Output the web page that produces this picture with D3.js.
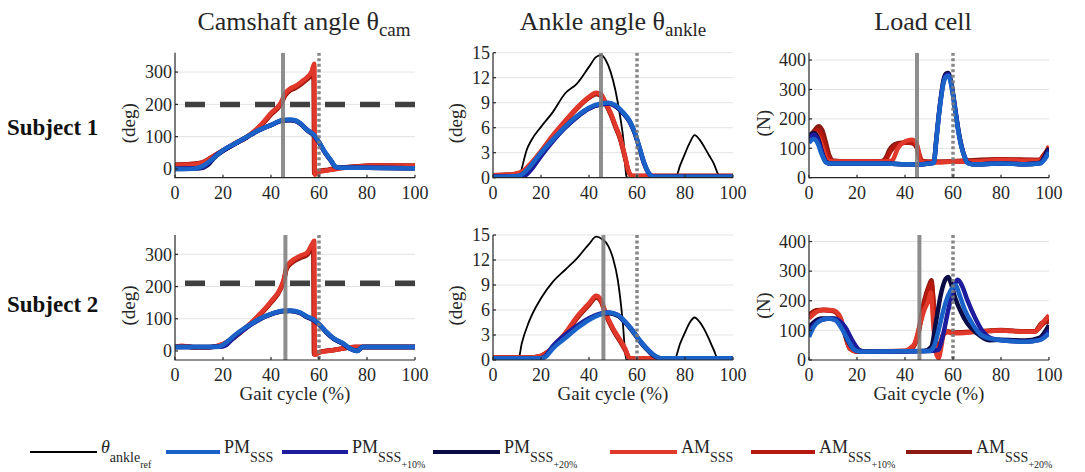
<!DOCTYPE html>
<html lang="en">
<head>
<meta charset="UTF-8">
<title>Camshaft, ankle angle and load cell</title>
<script src="https://d3js.org/d3.v7.min.js"></script>
<style>
    body { margin: 0; background: #fff; }
    text { font-family: "Liberation Serif", "Times New Roman", serif; fill: #262626; }
    .grid { stroke: #e3e3e3; stroke-width: 1; }
    .axis { stroke: #262626; stroke-width: 1.2; fill: none; }
</style>
</head>
<body>
<script>
// ---- data: [gait cycle %, value] ----
const xTicks = [0, 20, 40, 60, 80, 100];
const camTicks = [0, 100, 200, 300];
const ankTicks = [0, 3, 6, 9, 12, 15];
const loadTicks = [0, 100, 200, 300, 400];
const camThreshold = [200, 210];       // dashed line, subject 1 / subject 2
const stanceMark = [45, 46];           // solid grey line
const toeOffMark = [60, 60];           // dotted grey line

// Subject 1 - camshaft angle (deg)
const cam1PM = [[0,0],[8,1],[10,5],[12,11],[15,27],[20,58],[25,79],[30,100],[35,121],[40,136],[45,152],[48,153],[50,151],[52,143],[55,121],[58,105],[60,84],[62,58],[65,27],[67,6],[69,4],[80,4],[100,2]];
const cam1PM10 = [[0,1],[9,2],[11,4],[13,12],[15,26],[17,42],[20,57],[25,78],[30,99],[35,120],[40,136],[45,151],[48,152],[50,150],[52,142],[55,122],[58,104],[60,83],[62,57],[65,26],[67,6],[69,4],[80,4],[100,2]];
const cam1PM20 = [[0,0],[10,2],[12,5],[14,14],[16,32],[20,56],[25,78],[30,99],[35,120],[40,136],[45,150],[48,151],[50,149],[52,141],[55,120],[58,103],[60,82],[62,56],[65,25],[67,6],[69,4],[80,4],[100,2]];
const cam1AM = [[0,11],[5,13],[9,15],[12,22],[15,36],[20,58],[25,80],[30,100],[35,131],[40,173],[44,204],[46,235],[48,249],[50,256],[53,272],[55,284],[57,303],[58,326],[58.3,-18],[60,-9],[64,-4],[68,1],[75,6],[82,10],[100,9]];
const cam1AM10 = [[0,12],[5,14],[9,16],[12,21],[15,35],[20,57],[25,79],[30,99],[35,129],[40,170],[44,201],[46,231],[48,246],[50,253],[53,268],[55,280],[57,298],[57.9,320],[58.2,-15],[60,-8],[64,-3],[68,2],[75,7],[82,11],[100,10]];
const cam1AM20 = [[0,13],[5,15],[9,17],[12,22],[15,35],[20,57],[25,78],[30,98],[35,128],[40,168],[44,199],[46,228],[48,243],[50,250],[53,265],[55,277],[57,294],[57.7,314],[58,-14],[60,-7],[64,-2],[68,3],[75,8],[82,11],[100,10]];

// Subject 1 - ankle angle (deg)
const ank1Ref = [[0,0],[11,0],[12,1.1],[14,3.3],[16,4.5],[20,6.1],[25,7.9],[30,10.1],[35,11.3],[40,13.3],[43,14.5],[45,14.7],[47,14.1],[49,12.7],[51,10.5],[53,7.3],[54.5,4.1],[55.5,0.3],[56,0],[76,0],[78,1.5],[80,2.9],[82,4.2],[84,5.1],[86,4.6],[88,3.7],[90,2.7],[92,1.7],[94,0.3],[95,0],[100,0]];
const ank1PM = [[0,0.1],[10,0.2],[13,0.6],[15,1.2],[20,3],[25,4.6],[30,6.1],[35,7.4],[40,8.4],[45,8.9],[48,9],[51,8.7],[54,7.9],[57,6.8],[59,5.5],[61,3.7],[63,1.8],[65,0.5],[67,0.1],[100,0.1]];
const ank1PM10 = [[0,0.1],[12,0.1],[14,0.4],[16,1],[20,2.6],[25,4.4],[30,6],[35,7.3],[40,8.3],[45,8.8],[48,8.9],[51,8.6],[54,7.8],[57,6.7],[59,5.4],[61,3.6],[63,1.7],[65,0.5],[67,0.1],[100,0.1]];
const ank1PM20 = [[0,0.1],[12,0.1],[14,0.5],[16,1.1],[20,2.7],[25,4.5],[30,6],[35,7.3],[40,8.3],[45,8.8],[48,8.9],[51,8.6],[54,7.8],[57,6.7],[59,5.4],[61,3.6],[63,1.7],[65,0.5],[67,0.1],[100,0.1]];
const ank1AM = [[0,0.3],[8,0.4],[11,0.6],[13,0.9],[16,1.8],[20,3.2],[25,5.1],[30,6.8],[35,8.4],[40,9.7],[43,10.2],[45,10],[47,9],[49,7.8],[51,6.3],[53,4.8],[55,2.6],[56.5,0.8],[58,0.2],[100,0.2]];
const ank1AM10 = [[0,0.3],[8,0.4],[11,0.5],[13,0.8],[16,1.7],[20,3.1],[25,5],[30,6.7],[35,8.3],[40,9.6],[43,10.1],[45,9.9],[47,8.9],[49,7.7],[51,6.2],[53,4.7],[55,2.5],[56.5,0.7],[58,0.2],[100,0.2]];
const ank1AM20 = [[0,0.3],[8,0.4],[11,0.5],[13,0.8],[16,1.7],[20,3.1],[25,5],[30,6.7],[35,8.3],[40,9.6],[43,10],[45,9.8],[47,8.8],[49,7.6],[51,6.1],[53,4.6],[55,2.4],[56.5,0.7],[58,0.2],[100,0.2]];

// Subject 1 - load cell (N)
const load1PM = [[0,118],[1,128],[2,132],[3,126],[4,110],[5,86],[6,66],[7,52],[9,48],[20,48],[30,48],[40,46],[45,45],[50,48],[52,50],[53,123],[54,202],[55,269],[56,319],[57,342],[58,347],[59,325],[60,280],[61,224],[62,168],[63,123],[64,90],[65,67],[66,50],[68,46],[80,48],[90,46],[96,48],[98,60],[99,72],[100,86]];
const load1PM10 = [[0,135],[1,142],[2,146],[3,140],[4,122],[5,95],[6,70],[7,54],[9,48],[20,48],[30,48],[40,46],[45,45],[50,48],[52,51],[53,125],[54,205],[55,273],[56,325],[57,348],[58,352],[59,330],[60,284],[61,228],[62,172],[63,126],[64,92],[65,68],[66,51],[68,46],[80,48],[90,46],[96,48],[98,65],[99,80],[100,94]];
const load1PM20 = [[0,140],[1,148],[2,152],[3,146],[4,128],[5,98],[6,72],[7,55],[9,48],[20,48],[30,48],[40,46],[45,45],[50,48],[52,52],[53,128],[54,208],[55,276],[56,330],[57,353],[58,356],[59,333],[60,286],[61,230],[62,174],[63,128],[64,93],[65,68],[66,51],[68,46],[80,48],[90,46],[96,50],[98,70],[99,88],[100,100]];
const load1AM = [[0,125],[2,138],[3,145],[4,140],[5,120],[6,95],[7,70],[8,58],[10,55],[30,55],[34,57],[35,62],[37,100],[40,123],[43,129],[45,112],[46.5,56],[48,52],[55,52],[60,55],[70,55],[80,60],[90,58],[96,58],[98,75],[100,108]];
const load1AM10 = [[0,135],[2,150],[3.5,162],[5,150],[6.5,115],[8,75],[10,57],[20,55],[30,55],[32,62],[34,90],[36,108],[38,115],[41,120],[43,118],[45,105],[46,80],[47,58],[50,54],[60,55],[70,56],[80,62],[90,60],[96,60],[98,78],[100,100]];
const load1AM20 = [[0,140],[2,158],[4,175],[5.5,162],[7,120],[8.5,75],[10,58],[20,55],[30,56],[32,68],[33.5,95],[35,110],[37,117],[40,120],[43,118],[45,100],[46,70],[47,56],[50,54],[60,56],[80,63],[96,60],[98,80],[100,95]];

// Subject 2 - camshaft angle (deg)
const cam2PM = [[0,12],[10,12],[18,13],[20,19],[22,30],[25,50],[30,76],[35,99],[40,115],[45,125],[48,126],[52,120],[55,107],[58,97],[60,84],[63,60],[66,40],[70,24],[73,8],[76,0],[78,12],[100,12]];
const cam2PM10 = [[0,12],[10,12],[19,13],[21,17],[23,30],[26,50],[30,73],[35,97],[40,114],[45,124],[48,125],[52,119],[55,106],[58,96],[60,83],[63,59],[66,39],[70,23],[73,7],[76,0],[78,12],[100,12]];
const cam2PM20 = [[0,12],[10,12],[19,14],[21,20],[23,33],[26,53],[30,75],[35,98],[40,114],[45,123],[48,124],[52,118],[55,105],[58,95],[60,82],[63,58],[66,38],[70,22],[73,7],[76,1],[78,12],[100,12]];
const cam2AM = [[0,12],[3,16],[6,13],[10,10],[15,12],[20,22],[25,45],[30,76],[35,112],[40,154],[44,196],[45.5,227],[46.5,263],[48,276],[52,295],[55,305],[57,331],[58,342],[58.3,-12],[60,-5],[65,1],[70,8],[75,12],[100,12]];
const cam2AM10 = [[0,12],[3,15],[6,13],[10,10],[15,12],[20,21],[25,44],[30,75],[35,110],[40,152],[44,194],[45.5,224],[46.5,258],[48,272],[52,291],[55,301],[57,325],[57.8,336],[58.1,-11],[60,-4],[65,2],[70,8],[75,12],[100,12]];
const cam2AM20 = [[0,12],[3,15],[6,13],[10,10],[15,12],[20,21],[25,44],[30,74],[35,109],[40,150],[44,192],[45.5,222],[46.5,255],[48,269],[52,288],[55,298],[57,321],[57.6,332],[57.9,-10],[60,-4],[65,2],[70,8],[75,12],[100,12]];

// Subject 2 - ankle angle (deg)
const ank2Ref = [[0,0],[10.5,0],[12,2],[15,4.6],[20,7.4],[25,9.4],[30,10.8],[35,12.2],[40,13.9],[43,14.8],[45.5,14.5],[48,13.7],[50,12.2],[52,9.6],[54,4.8],[55.5,0],[75.5,0],[78,2],[80,3.3],[82,4.5],[84,5.1],[86,4.6],[88,3.7],[90,2.5],[92,1.2],[94,0],[100,0]];
const ank2PM = [[0,0.2],[20,0.2],[22,0.4],[25,1.4],[30,2.6],[35,3.8],[40,4.8],[45,5.5],[48,5.7],[52,5.4],[55,4.6],[58,3.6],[61,2.4],[64,1.4],[67,0.6],[70,0.2],[100,0.2]];
const ank2PM10 = [[0,0.2],[20,0.2],[22,0.5],[25,1.7],[30,3],[35,4.1],[40,5],[45,5.6],[48,5.7],[52,5.4],[55,4.6],[58,3.6],[61,2.4],[64,1.4],[67,0.6],[70,0.2],[100,0.2]];
const ank2PM20 = [[0,0.2],[20,0.2],[22,0.5],[25,1.6],[30,2.9],[35,4],[40,4.9],[45,5.5],[48,5.6],[52,5.3],[55,4.5],[58,3.5],[61,2.3],[64,1.3],[67,0.5],[70,0.2],[100,0.2]];
const ank2AM = [[0,0.3],[15,0.3],[20,0.5],[23,1],[26,1.9],[30,3.2],[35,5.2],[40,6.8],[43,7.7],[45,7.2],[47,5.6],[50,3.8],[53,2.4],[55,1.4],[57,0.2],[100,0.2]];
const ank2AM10 = [[0,0.3],[15,0.3],[20,0.5],[23,1],[26,1.8],[30,3.1],[35,5.1],[40,6.7],[43,7.6],[45,7.1],[47,5.5],[50,3.7],[53,2.3],[55,1.3],[57,0.2],[100,0.2]];
const ank2AM20 = [[0,0.3],[15,0.3],[20,0.5],[23,1],[26,1.8],[30,3.1],[35,5],[40,6.6],[43,7.5],[45,7],[47,5.4],[50,3.6],[53,2.2],[55,1.2],[57,0.2],[100,0.2]];

// Subject 2 - load cell (N)
const load2PM = [[0,78],[2,112],[5,134],[8,140],[11,134],[14,101],[17,56],[19,34],[22,28],[50,30],[52,45],[54,101],[56,168],[58,218],[60,246],[61,252],[63,213],[65,168],[68,123],[71,90],[75,73],[80,67],[90,62],[96,67],[100,90]];
const load2PM10 = [[0,100],[5,135],[10,140],[13,130],[15,112],[18,67],[21,34],[24,28],[50,30],[54,35],[56,90],[58,168],[60,235],[62,271],[64,246],[66,202],[69,146],[72,101],[76,73],[80,67],[90,62],[96,68],[100,100]];
const load2PM20 = [[0,112],[5,140],[10,140],[13,125],[16,67],[19,34],[22,28],[48,30],[51,45],[53,134],[55,224],[57,274],[58,280],[59,263],[61,207],[63,168],[66,123],[70,90],[75,67],[80,68],[90,66],[96,75],[100,118]];
const load2AM = [[0,140],[3,162],[6,170],[10,168],[13,146],[15,90],[17,39],[20,28],[40,30],[42,39],[44,56],[46,112],[48,168],[50,207],[50.7,228],[52,100],[53,22],[54,6],[55,39],[56,84],[57,95],[60,90],[70,95],[80,100],[90,95],[94,95],[97,123],[100,151]];
const load2AM10 = [[0,148],[3,165],[6,168],[10,165],[13,140],[15,85],[17,38],[20,28],[40,30],[43,40],[45,70],[48,190],[50,245],[51,262],[52,180],[53,60],[54,40],[56,85],[58,95],[60,92],[70,96],[80,100],[90,96],[94,96],[97,118],[100,140]];
const load2AM20 = [[0,152],[3,168],[6,170],[10,166],[13,142],[15,88],[17,40],[20,29],[40,30],[43,42],[45,75],[48,200],[50,252],[51,269],[52,180],[53,55],[54,42],[56,88],[58,96],[60,93],[70,96],[80,101],[90,97],[94,97],[97,125],[100,130]];

// ---- series definitions ----
const seriesNames = ["AM20", "AM10", "AM", "PM20", "PM10", "PM"];
const colors = {
    ref: "#000000",
    PM: "#1a62c8", PM10: "#1c1c9c", PM20: "#0b0b45",
    AM: "#e0392b", AM10: "#b5180c", AM20: "#8a1a12"
};

const panels = [
    { row: 0, col: 0, domain: [-27, 360], ticks: camTicks, unit: "(deg)", thr: camThreshold[0],
      series: { PM: cam1PM, PM10: cam1PM10, PM20: cam1PM20, AM: cam1AM, AM10: cam1AM10, AM20: cam1AM20 } },
    { row: 0, col: 1, domain: [0, 15], ticks: ankTicks, unit: "(deg)", ref: ank1Ref,
      series: { PM: ank1PM, PM10: ank1PM10, PM20: ank1PM20, AM: ank1AM, AM10: ank1AM10, AM20: ank1AM20 } },
    { row: 0, col: 2, domain: [0, 425], ticks: loadTicks, unit: "(N)",
      series: { PM: load1PM, PM10: load1PM10, PM20: load1PM20, AM: load1AM, AM10: load1AM10, AM20: load1AM20 } },
    { row: 1, col: 0, domain: [-28, 360], ticks: camTicks, unit: "(deg)", thr: camThreshold[1],
      series: { PM: cam2PM, PM10: cam2PM10, PM20: cam2PM20, AM: cam2AM, AM10: cam2AM10, AM20: cam2AM20 } },
    { row: 1, col: 1, domain: [0, 15], ticks: ankTicks, unit: "(deg)", ref: ank2Ref,
      series: { PM: ank2PM, PM10: ank2PM10, PM20: ank2PM20, AM: ank2AM, AM10: ank2AM10, AM20: ank2AM20 } },
    { row: 1, col: 2, domain: [0, 422], ticks: loadTicks, unit: "(N)",
      series: { PM: load2PM, PM10: load2PM10, PM20: load2PM20, AM: load2AM, AM10: load2AM10, AM20: load2AM20 } }
];

// ---- layout ----
const W = 1085, H = 472;
const panelX = [175, 493, 809];
const panelW = 240;
const rowTop = [52.7, 235];
const panelH = 125;
const unitOffset = [47, 38, 46];
const titleX = [304, 613, 923];

const svg = d3.select("body").append("svg")
    .attr("width", W)
    .attr("height", H);

const defs = svg.append("defs");

panels.forEach((p, i) => {
    const x0 = panelX[p.col], y0 = rowTop[p.row];
    const x = d3.scaleLinear().domain([0, 100]).range([x0, x0 + panelW]);
    const y = d3.scaleLinear().domain(p.domain).range([y0 + panelH, y0]);
    const g = svg.append("g");

    defs.append("clipPath").attr("id", "clip" + i)
        .append("rect")
        .attr("x", x0).attr("y", y0)
        .attr("width", panelW).attr("height", panelH);

    // horizontal grid
    g.selectAll(".grid")
        .data(p.ticks.filter(t => t !== 0))
        .enter().append("line")
        .attr("class", "grid")
        .attr("x1", x0).attr("x2", x0 + panelW)
        .attr("y1", d => y(d)).attr("y2", d => y(d));

    const plot = g.append("g").attr("clip-path", "url(#clip" + i + ")");
    const line = d3.line()
        .x(d => x(d[0]))
        .y(d => y(d[1]))
        .curve(d3.curveMonotoneX);

    if (p.ref) {
        plot.append("path")
            .attr("d", line(p.ref))
            .attr("fill", "none")
            .attr("stroke", colors.ref)
            .attr("stroke-width", 1.8);
    }

    seriesNames.forEach(s => {
        plot.append("path")
            .attr("d", line(p.series[s]))
            .attr("fill", "none")
            .attr("stroke", colors[s])
            .attr("stroke-width", 4.5)
            .attr("stroke-linejoin", "round");
    });

    // gait event markers
    plot.append("line")
        .attr("x1", x(stanceMark[p.row])).attr("x2", x(stanceMark[p.row]))
        .attr("y1", y0).attr("y2", y0 + panelH)
        .attr("stroke", "#7a7a7a").attr("stroke-opacity", 0.85)
        .attr("stroke-width", 4);
    plot.append("line")
        .attr("x1", x(toeOffMark[p.row])).attr("x2", x(toeOffMark[p.row]))
        .attr("y1", y0).attr("y2", y0 + panelH)
        .attr("stroke", "#7a7a7a").attr("stroke-opacity", 0.9)
        .attr("stroke-width", 3.5)
        .attr("stroke-dasharray", "3,2.5");

    if (p.thr !== undefined) {
        plot.append("line")
            .attr("x1", x0).attr("x2", x0 + panelW)
            .attr("y1", y(p.thr)).attr("y2", y(p.thr))
            .attr("stroke", "#404040")
            .attr("stroke-width", 5.5)
            .attr("stroke-dasharray", "20,15")
            .attr("stroke-dashoffset", -10);
    }

    // axes
    g.append("path").attr("class", "axis")
        .attr("d", `M${x0},${y0}V${y0 + panelH}H${x0 + panelW}`);

    g.selectAll(".yt")
        .data(p.ticks)
        .enter().append("line")
        .attr("class", "axis")
        .attr("x1", x0).attr("x2", x0 + 3)
        .attr("y1", d => y(d)).attr("y2", d => y(d));
    g.selectAll(".xt")
        .data(xTicks)
        .enter().append("line")
        .attr("class", "axis")
        .attr("x1", d => x(d)).attr("x2", d => x(d))
        .attr("y1", y0 + panelH).attr("y2", y0 + panelH - 3);

    g.selectAll(".ylab")
        .data(p.ticks)
        .enter().append("text")
        .attr("x", x0 - 3)
        .attr("y", d => y(d))
        .attr("dy", "0.35em")
        .attr("text-anchor", "end")
        .style("font-size", "18px")
        .text(d => d);

    g.selectAll(".xlab")
        .data(xTicks)
        .enter().append("text")
        .attr("x", d => x(d))
        .attr("y", y0 + panelH + 21)
        .attr("text-anchor", "middle")
        .style("font-size", "18px")
        .text(d => d);

    // unit label
    g.append("text")
        .attr("transform", `translate(${x0 - unitOffset[p.col]},${y0 + panelH / 2 + 8}) rotate(-90)`)
        .attr("text-anchor", "middle")
        .attr("dy", "0.35em")
        .style("font-size", "19px")
        .text(p.unit);

    if (p.row === 1) {
        g.append("text")
            .attr("x", x0 + panelW / 2)
            .attr("y", y0 + panelH + 40)
            .attr("text-anchor", "middle")
            .style("font-size", "19px")
            .text("Gait cycle (%)");
    }
});

// column titles
const titles = [["Camshaft angle θ", "cam"], ["Ankle angle θ", "ankle"], ["Load cell", ""]];
titles.forEach((t, i) => {
    const txt = svg.append("text")
        .attr("x", titleX[i])
        .attr("y", 30)
        .attr("text-anchor", "middle")
        .style("font-size", "26px");
    txt.append("tspan").text(t[0]);
    if (t[1]) txt.append("tspan").attr("dy", 6).style("font-size", "19px").text(t[1]);
});

// row labels
["Subject 1", "Subject 2"].forEach((s, i) => {
    svg.append("text")
        .attr("x", 7)
        .attr("y", [135, 312][i])
        .style("font-size", "23px")
        .style("font-weight", "bold")
        .style("fill", "#111")
        .text(s);
});

// legend
const legendItems = [
    { key: "ref", x1: 30, x2: 97, width: 2, main: "θ", sub: "ankle", sub2: "ref", italic: true },
    { key: "PM", x1: 166, x2: 220, width: 4, main: "PM", sub: "SSS" },
    { key: "PM10", x1: 282, x2: 348, width: 4, main: "PM", sub: "SSS", sub2: "+10%" },
    { key: "PM20", x1: 433, x2: 500, width: 4, main: "PM", sub: "SSS", sub2: "+20%" },
    { key: "AM", x1: 610, x2: 677, width: 4, main: "AM", sub: "SSS" },
    { key: "AM10", x1: 751, x2: 815, width: 4, main: "AM", sub: "SSS", sub2: "+10%" },
    { key: "AM20", x1: 906, x2: 972, width: 4, main: "AM", sub: "SSS", sub2: "+20%" }
];
const legY = 452;
const leg = svg.append("g");
legendItems.forEach(d => {
    leg.append("line")
        .attr("x1", d.x1).attr("x2", d.x2)
        .attr("y1", legY).attr("y2", legY)
        .attr("stroke", colors[d.key])
        .attr("stroke-width", d.width);
    const t = leg.append("text")
        .attr("x", d.x2 + 4)
        .attr("y", legY + 1)
        .style("font-size", "18px");
    t.append("tspan").style("font-style", d.italic ? "italic" : "normal").text(d.main);
    t.append("tspan").attr("dy", 9).style("font-size", "14px").text(d.sub);
    if (d.sub2) t.append("tspan").attr("dy", 6).style("font-size", "10px").text(d.sub2);
});
</script>
</body>
</html>
